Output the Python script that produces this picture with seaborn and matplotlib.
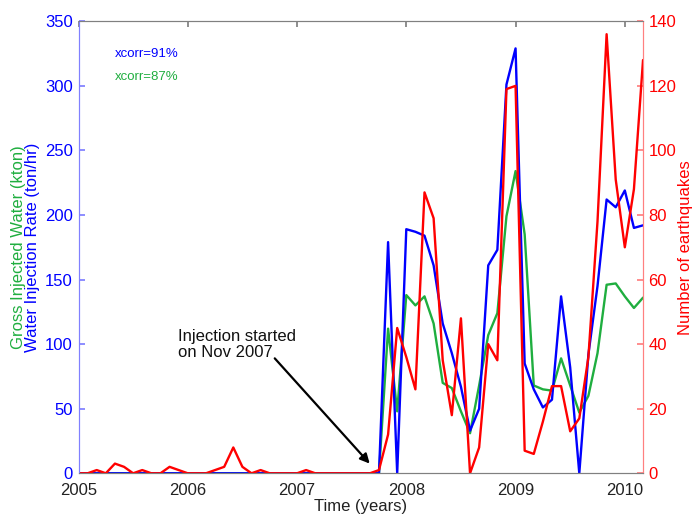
import numpy as np
import pandas as pd
import matplotlib
matplotlib.use("Agg")
import matplotlib.pyplot as plt
import seaborn as sns

# Monthly series, Jan 2005 .. Mar 2010
injection_rate = [  # ton/hr
    0, 0, 0, 0, 0, 0, 0, 0, 0, 0, 0, 0,
    0, 0, 0, 0, 0, 0, 0, 0, 0, 0, 0, 0,
    0, 0, 0, 0, 0, 0, 0, 0, 0, 0, 179, 0,
    189, 187, 184, 161, 116, 93, 67, 33, 50, 161, 173, 301,
    329, 85, 65, 51, 57, 137, 82, 0, 92, 145, 212, 206,
    219, 190, 192,
]
gross_water = [  # kton
    0, 0, 0, 0, 0, 0, 0, 0, 0, 0, 0, 0,
    0, 0, 0, 0, 0, 0, 0, 0, 0, 0, 0, 0,
    0, 0, 0, 0, 0, 0, 0, 0, 0, 0, 112, 48,
    138, 130, 137, 116, 70, 66, 48, 31, 68, 107, 124, 199,
    234, 185, 68, 65, 64, 89, 68, 47, 60, 93, 146, 147,
    137, 128, 136,
]
earthquakes = [
    0, 0, 1, 0, 3, 2, 0, 1, 0, 0, 2, 1,
    0, 0, 0, 1, 2, 8, 2, 0, 1, 0, 0, 0,
    0, 1, 0, 0, 0, 0, 0, 0, 0, 1, 12, 45,
    36, 26, 87, 79, 35, 18, 48, 0, 8, 40, 35, 119,
    120, 7, 6, 16, 27, 27, 13, 17, 36, 78, 136, 91,
    70, 88, 128,
]
year_ticks = [2005, 2006, 2007, 2008, 2009, 2010]
left_ticks = [0, 50, 100, 150, 200, 250, 300, 350]
right_ticks = [0, 20, 40, 60, 80, 100, 120, 140]

time = 2005 + np.arange(len(earthquakes)) / 12.0
df = pd.DataFrame({"time": time, "rate": injection_rate,
                   "gross": gross_water, "quakes": earthquakes})

BLUE = "#0000ff"
GREEN = "#1fae3f"
RED = "#ff0000"

sns.set_theme(style="white")
plt.rcParams["font.family"] = ["Liberation Sans", "DejaVu Sans"]
plt.rcParams["font.size"] = 12

fig = plt.figure(figsize=(6.96, 5.14), dpi=100)
ax = fig.add_axes([0.1128, 0.0792, 0.8111, 0.8794])
ax2 = ax.twinx()

sns.lineplot(data=df, x="time", y="gross", ax=ax, color=GREEN, linewidth=1.7)
sns.lineplot(data=df, x="time", y="rate", ax=ax, color=BLUE, linewidth=1.7)
sns.lineplot(data=df, x="time", y="quakes", ax=ax2, color=RED, linewidth=1.7)

ax.set_xlim(2005, 2010 + 2 / 12)
ax.set_ylim(0, 350)
ax2.set_ylim(0, 140)
ax.set_xticks(year_ticks)
ax.set_xticklabels([str(y) for y in year_ticks])
ax.set_yticks(left_ticks)
ax2.set_yticks(right_ticks)

ax.set_xlabel("Time (years)", fontsize=12, color="#222222", labelpad=1)
ax.set_ylabel("")
ax2.set_ylabel("Number of earthquakes", fontsize=12, color=RED, labelpad=1)

ax.tick_params(axis="x", direction="in", top=True, length=4, colors="#808080",
               labelcolor="#222222", labelsize=12, pad=7)
ax.tick_params(axis="y", direction="in", length=4, colors="#8080ff",
               labelcolor=BLUE, labelsize=12, pad=4)
ax2.tick_params(axis="y", direction="in", length=4, colors="#ff8080",
                labelcolor=RED, labelsize=12, pad=4)

for a in (ax, ax2):
    a.spines["top"].set_color("#808080")
    a.spines["bottom"].set_color("#808080")
    a.spines["left"].set_color("#8080ff")
    a.spines["right"].set_color("#ff8080")
    for s in a.spines.values():
        s.set_linewidth(0.8)

# two-colour left axis title
fig.text(0.026, 0.519, "Gross Injected Water (kton)", rotation=90,
         color=GREEN, fontsize=12, ha="center", va="center")
fig.text(0.047, 0.519, "Water Injection Rate (ton/hr)", rotation=90,
         color=BLUE, fontsize=12, ha="center", va="center")

ax.text(0.0647, 0.928, "xcorr=91%", transform=ax.transAxes, color=BLUE,
        fontsize=9.5, ha="left", va="center")
ax.text(0.0647, 0.877, "xcorr=87%", transform=ax.transAxes, color=GREEN,
        fontsize=9.5, ha="left", va="center")

ax.text(2005.91, 100, "Injection started\non Nov 2007", fontsize=12,
        color="#111111", ha="left", va="center", linespacing=1.1)
ax.annotate("", xy=(2007.665, 7.5), xytext=(2006.796, 89),
            arrowprops=dict(arrowstyle="-|>", color="black", lw=1.6,
                            mutation_scale=14, shrinkA=0, shrinkB=0))

fig.savefig("out.png", dpi=100)
